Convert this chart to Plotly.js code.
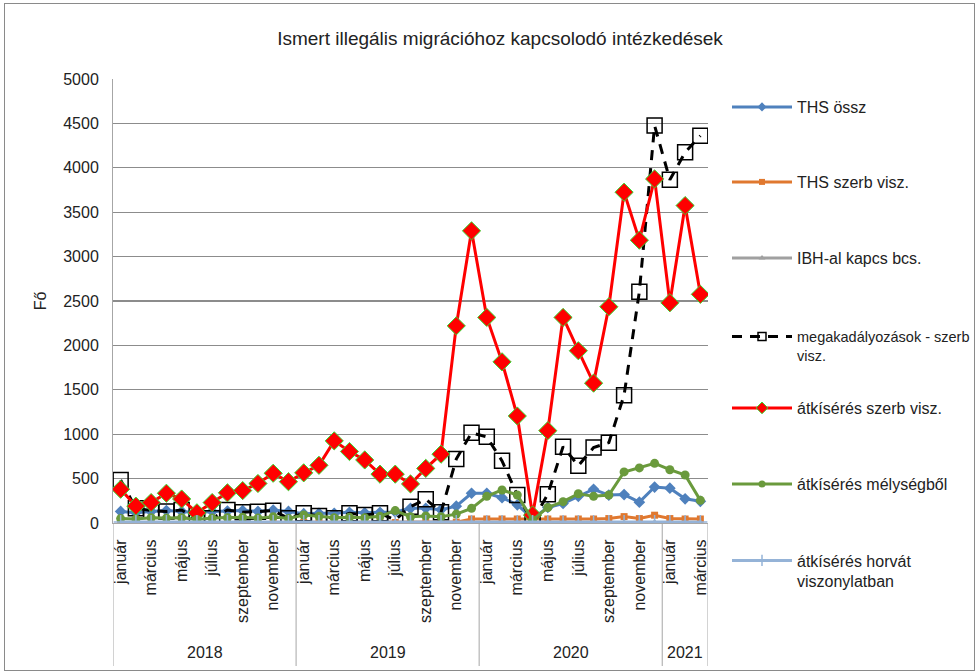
<!DOCTYPE html>
<html>
<head>
<meta charset="utf-8">
<script src="https://cdn.plot.ly/plotly-3.0.1.min.js"></script>
<style>
  html, body { margin: 0; padding: 0; background: #fff; }
  #frame { position: absolute; left: 4px; top: 3px; width: 971px; height: 668px; border: 1px solid #8a8a8a; box-sizing: border-box; }
  #chart { position: absolute; left: 0; top: 0; width: 978px; height: 672px; }
</style>
</head>
<body>
<div id="frame"></div>
<div id="chart"></div>
<script>
// ---- data ----
const years = ["2018", "2019", "2020", "2021"];
const monthsPerYear = [12, 12, 12, 3];
const monthNames = ["január", "február", "március", "április", "május", "június",
                    "július", "augusztus", "szeptember", "október", "november", "december"];

const seriesNames = [
  "THS össz",
  "THS szerb visz.",
  "IBH-al kapcs bcs.",
  "megakadályozások - szerb<br>visz.",
  "átkísérés szerb visz.",
  "átkísérés mélységből",
  "átkísérés horvát<br>viszonylatban"
];

const thsOssz = [130,115,130,140,130,115,130,135,140,130,145,130,
                 105,110,110,120,115,120,125,165,165,150,190,335,
                 335,285,205,50,175,220,300,380,315,320,235,405,
                 392,272,244];
const thsSzerb = [5,5,5,5,5,5,5,5,5,5,5,5,
                  5,5,5,5,5,5,5,5,5,5,10,45,
                  45,45,45,40,45,45,45,45,50,72,50,88,
                  50,45,45];
const ibh = [0,0,0,0,0,0,0,0,0,0,0,0,
             0,0,0,0,0,0,0,0,0,0,0,0,
             0,0,0,0,0,0,0,0,0,0,0,0,
             0,0,0];
const megakadalyozas = [485,165,140,130,146,34,53,146,120,128,139,53,
                        109,80,53,109,90,109,34,184,267,120,720,1015,
                        970,700,315,15,325,860,645,850,905,1440,2605,4475,
                        3865,4175,4360];
const atkiseresSzerb = [380,190,230,335,270,115,230,340,365,445,560,465,
                        565,650,925,805,710,550,550,440,615,775,2220,3290,
                        2315,1815,1205,90,1040,2315,1940,1575,2435,3725,3185,3875,
                        2480,3575,2575];
const atkiseresMely = [50,45,60,55,60,40,55,60,65,55,70,50,
                       90,75,60,65,60,75,140,70,80,70,100,165,
                       300,372,315,34,175,240,330,300,315,575,620,672,
                       600,541,255];
const atkiseresHorvat = [10,10,10,10,10,10,10,10,10,10,10,10,
                         10,10,10,10,10,10,10,10,10,10,10,10,
                         10,10,10,10,10,10,10,10,10,10,10,10,
                         10,10,10];

const yTicks = [0,500,1000,1500,2000,2500,3000,3500,4000,4500,5000];

// ---- build categories ----
const cats = [];
const catMonth = [];
const yearStart = [];
years.forEach((y, yi) => {
  yearStart.push(cats.length);
  for (let m = 0; m < monthsPerYear[yi]; m++) {
    cats.push(y + " " + monthNames[m]);
    catMonth.push(m);
  }
});
const tickVals = cats.filter((c, i) => catMonth[i] % 2 === 0);
const tickText = cats.map((c, i) => monthNames[catMonth[i]]).filter((c, i) => catMonth[i] % 2 === 0);

const FONT = "Liberation Sans, Arial, sans-serif";
const TXT = "#222";

const styles = [
  { color: "#4f81bd", symbol: "diamond", size: 9, lsize: 7 },
  { color: "#e0782f", symbol: "square", size: 7, lsize: 6 },
  { color: "#a0a0a0", symbol: "triangle-up", size: 8, lsize: 6 },
  { color: "#000000", symbol: "square-open", size: 15, lsize: 8, dash: "10px,8px", mline: { width: 1.5, color: "#000" } },
  { color: "#ff0000", symbol: "diamond", size: 14, lsize: 9, mline: { width: 1, color: "#33dd33" } },
  { color: "#6a9a3c", symbol: "circle", size: 9, lsize: 7 },
  { color: "#95b3d7", symbol: "cross-thin", size: 10, lsize: 8, mline: { width: 1.5, color: "#95b3d7" } }
];
const seriesData = [thsOssz, thsSzerb, ibh, megakadalyozas, atkiseresSzerb, atkiseresMely, atkiseresHorvat];
const legendIds = ["legend", "legend2", "legend3", "legend4", "legend5", "legend6", "legend7"];

const traces = [];
seriesData.forEach((d, i) => {
  const s = styles[i];
  const mk = { symbol: s.symbol, size: s.size, color: s.color };
  if (s.mline) mk.line = s.mline;
  traces.push({
    type: "scatter", mode: "lines+markers", name: seriesNames[i], x: cats, y: d,
    line: { color: s.color, width: 3, dash: s.dash || "solid" },
    marker: mk, showlegend: false
  });
});
// legend entries (no data, smaller symbols as in the original legend)
seriesData.forEach((d, i) => {
  const s = styles[i];
  const mk = { symbol: s.symbol, size: s.lsize, color: s.color };
  if (s.mline) mk.line = s.mline;
  traces.push({
    type: "scatter", mode: "lines+markers", name: seriesNames[i], x: [null], y: [null],
    line: { color: s.color, width: 3, dash: s.dash || "solid" },
    marker: mk, showlegend: true, legend: legendIds[i]
  });
});

// ---- layout ----
const L = 113, R = 708, T = 79, B = 523, W = 978, H = 672;
const py = (pix) => (B - pix) / (B - T);   // pixel -> paper y
const px = (pix) => (pix - L) / (R - L);   // pixel -> paper x

function leg(yPix, fsize) {
  return {
    x: px(727), xanchor: "left", y: py(yPix), yanchor: "middle",
    bgcolor: "rgba(0,0,0,0)", borderwidth: 0, itemwidth: 60, valign: "top",
    font: { family: FONT, size: fsize || 16, color: TXT }
  };
}

const annotations = years.map((y, yi) => ({
  x: yearStart[yi] + (monthsPerYear[yi] - 1) / 2, xref: "x",
  y: py(652), yref: "paper", text: y, showarrow: false,
  font: { family: FONT, size: 16, color: TXT }, xanchor: "center", yanchor: "middle"
}));

const shapes = [];
yearStart.concat([cats.length]).forEach(s => {
  shapes.push({ type: "line", xref: "x", yref: "paper", x0: s - 0.5, x1: s - 0.5,
                y0: 0, y1: py(666), line: { color: "#a6a6a6", width: 1 } });
});

const layout = {
  width: W, height: H,
  margin: { l: L, r: W - R, t: T, b: H - B, autoexpand: false },
  paper_bgcolor: "rgba(0,0,0,0)", plot_bgcolor: "#fff",
  font: { family: FONT, size: 16, color: TXT },
  title: { text: "Ismert illegális migrációhoz kapcsolodó intézkedések",
           x: 500 / W, xanchor: "center", xref: "container",
           y: 1 - 38 / H, yanchor: "middle", yref: "container",
           font: { family: FONT, size: 19, color: TXT } },
  xaxis: {
    type: "category", categoryorder: "array", categoryarray: cats,
    range: [-0.5, cats.length - 0.5], automargin: false,
    tickmode: "array", tickvals: tickVals, ticktext: tickText, tickangle: -90,
    ticks: "", showgrid: false, showline: true, linecolor: "#a6a6a6", linewidth: 1,
    zeroline: false, ticklabelstandoff: 9,
    tickfont: { family: FONT, size: 16, color: TXT }
  },
  yaxis: {
    range: [0, 5000], tickmode: "array", tickvals: yTicks, automargin: false,
    showgrid: true, gridcolor: "#8c8c8c", gridwidth: 1.3,
    showline: true, linecolor: "#a6a6a6", linewidth: 1, zeroline: false,
    ticks: "", ticklabelstandoff: 10,
    tickfont: { family: FONT, size: 16, color: TXT },
    title: { text: "Fő", standoff: 12, font: { family: FONT, size: 16, color: TXT } }
  },
  legend: leg(107), legend2: leg(182), legend3: leg(258),
  legend4: leg(346, 14.5), legend5: leg(408), legend6: leg(484), legend7: leg(571),
  showlegend: true,
  annotations: annotations,
  shapes: shapes
};

Plotly.newPlot("chart", traces, layout, { staticPlot: true, displayModeBar: false });
</script>
</body>
</html>
